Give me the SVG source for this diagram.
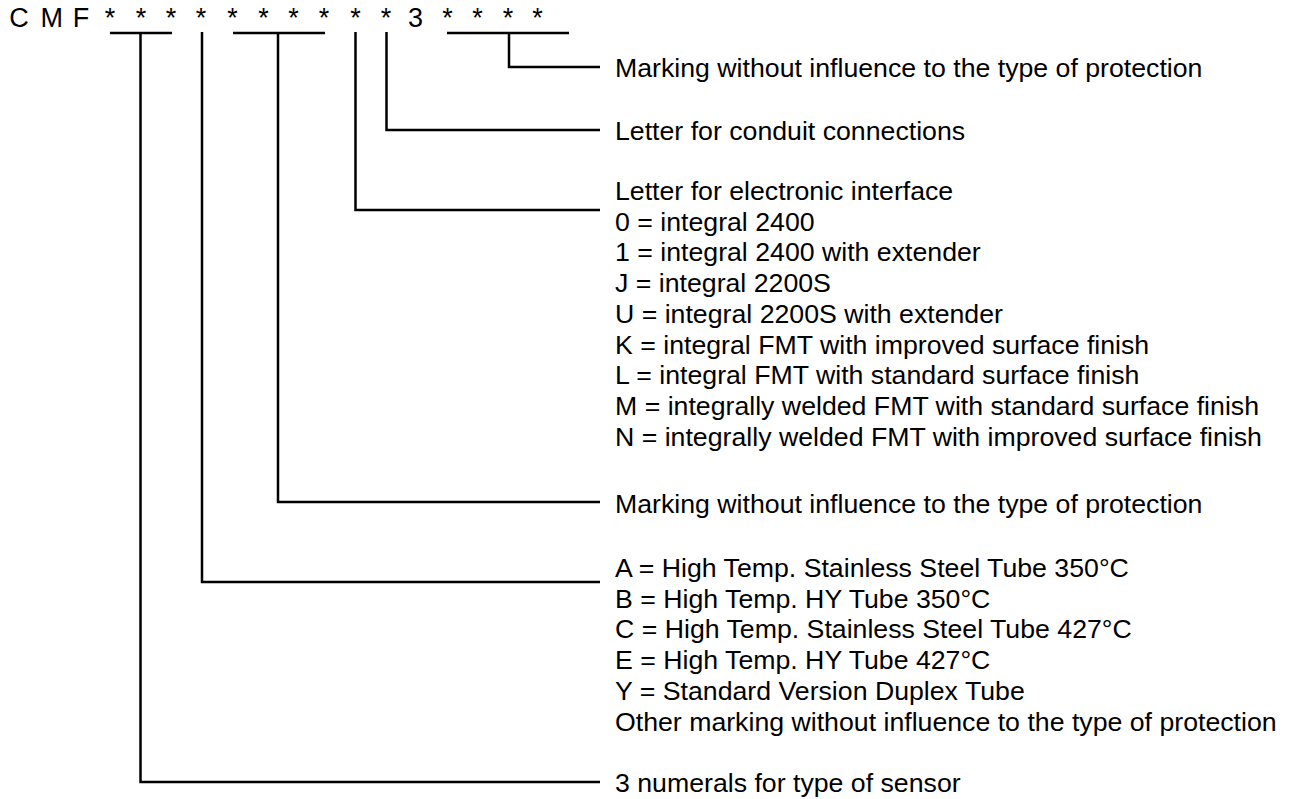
<svg xmlns="http://www.w3.org/2000/svg" width="1296" height="799" viewBox="0 0 1296 799">
  <style>
    .code { font-family: "Liberation Sans", Arial, sans-serif; font-size: 27px; fill: #000; text-anchor: middle; }
    .label { font-family: "Liberation Sans", Arial, sans-serif; font-size: 26.7px; fill: #000; }
    .lead { fill: none; stroke: #000; stroke-width: 2.5; stroke-linejoin: miter; stroke-linecap: butt; }
  </style>
  <rect width="1296" height="799" fill="#fff"/>

  <!-- type code string -->
  <g id="code">
    <text class="code" y="26.5"><tspan x="19">C</tspan><tspan x="51.7">M</tspan><tspan x="81">F</tspan><tspan x="110">*</tspan><tspan x="141">*</tspan><tspan x="171">*</tspan><tspan x="201">*</tspan><tspan x="232.5">*</tspan><tspan x="263.5">*</tspan><tspan x="293.5">*</tspan><tspan x="324">*</tspan><tspan x="355.5">*</tspan><tspan x="386">*</tspan><tspan x="415.5">3</tspan><tspan x="447.5">*</tspan><tspan x="477.5">*</tspan><tspan x="508">*</tspan><tspan x="537.5">*</tspan></text>
  </g>

  <!-- leader lines from code positions to their explanations -->
  <g id="connectors">
    <path class="lead" d="M110 33H172"/>
    <path class="lead" d="M140.5 33V782H600"/>
    <path class="lead" d="M202 32V582H600"/>
    <path class="lead" d="M233 33H325"/>
    <path class="lead" d="M278 33V502H600"/>
    <path class="lead" d="M355.5 32V210H600"/>
    <path class="lead" d="M386.5 32V130H600"/>
    <path class="lead" d="M447 33H569"/>
    <path class="lead" d="M509 33V67H600"/>
  </g>

  <g id="marking-suffix">
    <text class="label" x="615" y="76.5">Marking without influence to the type of protection</text>
  </g>

  <g id="conduit">
    <text class="label" x="615" y="139.5">Letter for conduit connections</text>
  </g>

  <g id="electronic-interface">
    <text class="label">
      <tspan x="615" y="200">Letter for electronic interface</tspan>
      <tspan x="615" y="230.7">0 = integral 2400</tspan>
      <tspan x="615" y="261.4">1 = integral 2400 with extender</tspan>
      <tspan x="615" y="292.1">J = integral 2200S</tspan>
      <tspan x="615" y="322.8">U = integral 2200S with extender</tspan>
      <tspan x="615" y="353.5">K = integral FMT with improved surface finish</tspan>
      <tspan x="615" y="384.2">L = integral FMT with standard surface finish</tspan>
      <tspan x="615" y="414.9">M = integrally welded FMT with standard surface finish</tspan>
      <tspan x="615" y="445.6">N = integrally welded FMT with improved surface finish</tspan>
    </text>
  </g>

  <g id="marking-middle">
    <text class="label" x="615" y="512.5">Marking without influence to the type of protection</text>
  </g>

  <g id="tube-version">
    <text class="label">
      <tspan x="615" y="577">A = High Temp. Stainless Steel Tube 350°C</tspan>
      <tspan x="615" y="607.7">B = High Temp. HY Tube 350°C</tspan>
      <tspan x="615" y="638.4">C = High Temp. Stainless Steel Tube 427°C</tspan>
      <tspan x="615" y="669.1">E = High Temp. HY Tube 427°C</tspan>
      <tspan x="615" y="699.8">Y = Standard Version Duplex Tube</tspan>
      <tspan x="615" y="730.5">Other marking without influence to the type of protection</tspan>
    </text>
  </g>

  <g id="sensor-type">
    <text class="label" x="615" y="791.5">3 numerals for type of sensor</text>
  </g>
</svg>
